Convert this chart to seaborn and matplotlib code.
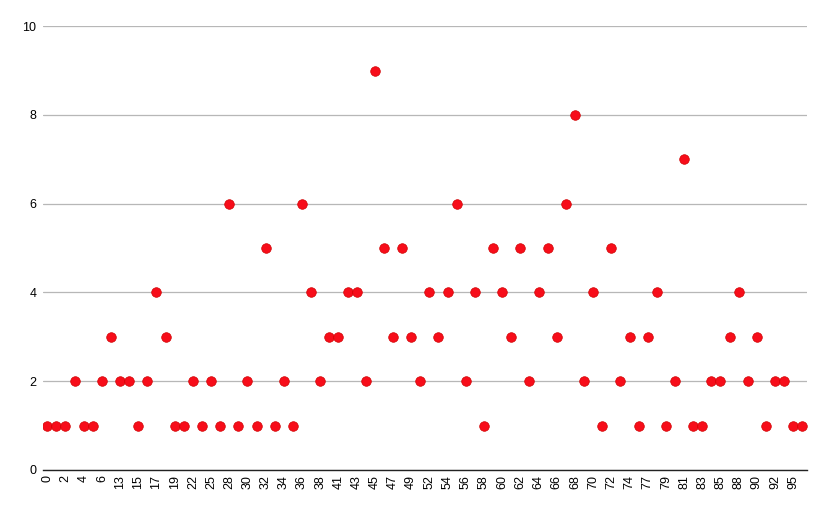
import numpy as np
import pandas as pd
import matplotlib
matplotlib.use("Agg")
import matplotlib.pyplot as plt
import seaborn as sns

# category labels (odd positions are not printed in the chart, guessed)
labels = [0, 1, 2, 3, 4, 5, 6, 12, 13, 14, 15, 16, 17, 18, 19, 21, 22, 24, 25, 27,
          28, 29, 30, 31, 32, 33, 34, 35, 36, 37, 38, 40, 41, 42, 43, 44, 45, 46, 47, 48,
          49, 51, 52, 53, 54, 55, 56, 57, 58, 59, 60, 61, 62, 63, 64, 65, 66, 67, 68, 69,
          70, 71, 72, 73, 74, 76, 77, 78, 79, 80, 81, 82, 83, 84, 85, 87, 88, 89, 90, 91,
          92, 94, 95, 96]
values = [1, 1, 1, 2, 1, 1, 2, 3, 2, 2, 1, 2, 4, 3, 1, 1, 2, 1, 2, 1,
          6, 1, 2, 1, 5, 1, 2, 1, 6, 4, 2, 3, 3, 4, 4, 2, 9, 5, 3, 5,
          3, 2, 4, 3, 4, 6, 2, 4, 1, 5, 4, 3, 5, 2, 4, 5, 3, 6, 8, 2,
          4, 1, 5, 2, 3, 1, 3, 4, 1, 2, 7, 1, 1, 2, 2, 3, 4, 2, 3, 1,
          2, 2, 1, 1]

df = pd.DataFrame({"cat": [str(l) for l in labels], "val": values})

sns.set_style("white")
plt.rcParams['font.family'] = ['Liberation Sans', 'DejaVu Sans']

fig = plt.figure(figsize=(8.31, 5.13), dpi=100)
ax = fig.add_axes([0.052, 0.084, 0.919, 0.865])

sns.stripplot(data=df, x="cat", y="val", order=df["cat"].tolist(), jitter=False,
              color="#f70d1a", edgecolor="#d00000", linewidth=0.5, size=6.9, ax=ax, zorder=3)

ax.set_xlim(-0.45, len(labels) - 0.5)
ax.set_ylim(0, 10)
ax.set_yticks(range(0, 11, 2))
ax.yaxis.grid(True, color="#b7b7b7", linewidth=0.9)
ax.set_axisbelow(True)
ax.set_xticks(range(0, len(labels), 2))
ax.set_xticklabels([str(l) for l in labels[::2]], rotation=90, fontsize=9, color="black")
ax.tick_params(axis="y", labelsize=9, labelcolor="black", length=0, pad=5)
ax.tick_params(axis="x", length=0, pad=4)
for s in ["top", "right", "left"]:
    ax.spines[s].set_visible(False)
ax.spines["bottom"].set_color("#222222")
ax.spines["bottom"].set_linewidth(1.0)
ax.set_xlabel("")
ax.set_ylabel("")

fig.savefig("out.png", dpi=100)
